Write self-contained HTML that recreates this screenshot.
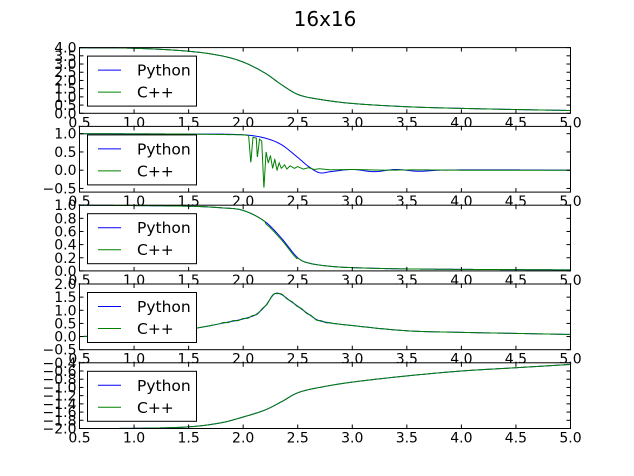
<!DOCTYPE html>
<html><head><meta charset="utf-8"><style>
html,body{margin:0;padding:0;background:#fff;}
svg{display:block;font-family:"DejaVu Sans","Liberation Sans",sans-serif;}
</style></head><body>
<svg id="s" width="634" height="476" viewBox="0 0 634 476" xmlns="http://www.w3.org/2000/svg">
<text x="325" y="26" font-size="20" text-anchor="middle">16x16</text>
</svg>
<script>
const S=document.getElementById('s');const NS='http://www.w3.org/2000/svg';
function el(t,a,txt){const e=document.createElementNS(NS,t);for(const k in a)e.setAttribute(k,a[k]);if(txt!==undefined)e.textContent=txt;S.appendChild(e);return e;}
const L=79.5,R=570.5,H=65.7,tops=[47.6,126.4,205.2,284,362.8];
function lin(pts,x){for(let i=0;i<pts.length-1;i++){if(x<=pts[i+1][0]){const t=(x-pts[i][0])/(pts[i+1][0]-pts[i][0]);return pts[i][1]+t*(pts[i+1][1]-pts[i][1]);}}return pts[pts.length-1][1];}
function cr(pts,x){const n=pts.length;for(let i=0;i<n-1;i++){if(x<=pts[i+1][0]||i==n-2){
 const p0=pts[Math.max(i-1,0)],p1=pts[i],p2=pts[i+1],p3=pts[Math.min(i+2,n-1)];
 const h=p2[0]-p1[0],t=(x-p1[0])/h;
 const m1=(p2[1]-p0[1])/(p2[0]-p0[0])*h,m2=(p3[1]-p1[1])/(p3[0]-p1[0])*h;
 const t2=t*t,t3=t2*t;
 return (2*t3-3*t2+1)*p1[1]+(t3-2*t2+t)*m1+(-2*t3+3*t2)*p2[1]+(t3-t2)*m2;}}}
const E=[[0.5,3.99],[1.0,3.96],[1.5,3.78],[1.8,3.5],[2.0,3.12],[2.2,2.45],[2.35,1.75],[2.5,1.15],[2.7,0.85],[3.0,0.6],[3.5,0.4],[4.0,0.3],[4.5,0.23],[5.0,0.17]];
const M=[[0.5,1],[1.5,0.985],[1.8,0.96],[2.0,0.92],[2.2,0.75],[2.35,0.5],[2.5,0.2],[2.6,0.12],[2.8,0.07],[3.0,0.05],[3.5,0.03],[5,0.015]];
const C=[[0.5,0],[1.0,0.07],[1.5,0.28],[1.8,0.5],[2.1,0.8],[2.2,1.15],[2.3,1.65],[2.45,1.3],[2.6,0.85],[2.7,0.6],[3.0,0.42],[3.5,0.22],[4.0,0.16],[4.5,0.12],[5,0.08]];
const E5=[[0.5,-2],[1.0,-1.995],[1.5,-1.96],[1.8,-1.86],[2.0,-1.72],[2.2,-1.55],[2.35,-1.35],[2.5,-1.13],[2.7,-1.0],[3.0,-0.87],[3.5,-0.72],[4.0,-0.6],[4.5,-0.52],[5,-0.44]];
const P2=[[0.5,1],[1.5,0.99],[2.0,0.97],[2.2,0.88],[2.35,0.7],[2.5,0.35],[2.6,0.1],[2.7,-0.07],[2.8,-0.04],[3.0,0.02],[3.2,-0.04],[3.4,0.02],[3.6,-0.03],[3.8,0.0],[4.2,0.01],[5,0.0]];
const G2=[[0.5,1],[1.5,0.99],[2.0,0.97],[2.05,0.95],[2.07,0.2],[2.09,0.9],[2.12,0.88],[2.13,0.35],[2.15,0.85],[2.17,0.8],[2.19,-0.5],[2.21,0.5],[2.23,0.2],[2.25,0.4],[2.27,0.05],[2.29,0.3],[2.31,0.0],[2.33,0.2],[2.35,0.05],[2.38,0.15],[2.4,0.03],[2.43,0.12],[2.47,0.05],[2.5,0.1],[2.55,0.03],[2.6,0.07],[2.65,0.02],[2.7,0.04],[2.8,0.01],[3.0,0.02],[3.3,0.0],[3.6,0.01],[4,0.0],[5,0.0]];
const panels=[
 {y0:0,y1:4,ticks:[0,0.5,1,1.5,2,2.5,3,3.5,4],f:x=>cr(E,x),g:x=>cr(E,x)},
 {y0:-0.6,y1:1.2,ticks:[-0.5,0,0.5,1.0],f:x=>cr(P2,x),g:x=>lin(G2,x),gl:true},
 {y0:0,y1:1,ticks:[0,0.2,0.4,0.6,0.8,1.0],f:x=>cr(M,x),g:x=>cr(M,x)+(x>2.2&&x<2.5?-0.025:0)},
 {y0:-0.5,y1:2,ticks:[-0.5,0,0.5,1,1.5,2],f:x=>cr(C,x),g:x=>cr(C,x)+(x>1.8&&x<2.8?0.02*Math.sin(x*70):0)},
 {y0:-2,y1:-0.4,ticks:[-2,-1.8,-1.6,-1.4,-1.2,-1,-0.8,-0.6,-0.4],f:x=>cr(E5,x),g:x=>cr(E5,x)}
];
const fmt=v=>v.toFixed(1).replace('-','\u2212');
panels.forEach((p,i)=>{
 const T=tops[i],B=T+H;
 const X=x=>L+(x-0.5)/4.5*(R-L);const Y=y=>B-(y-p.y0)/(p.y1-p.y0)*H;
 el('rect',{x:L,y:T,width:R-L,height:H,fill:'#fff'});
 const mk=(fn,n)=>{let d='';for(let k=0;k<=n;k++){const x=0.5+4.5*k/n;d+=(k?'L':'M')+X(x).toFixed(2)+','+Y(fn(x)).toFixed(2);}return d;};
 el('path',{d:mk(p.f,400),fill:'none',stroke:'#0000ff','stroke-width':1});
 el('path',{d:mk(p.g,p.gl?3000:400),fill:'none',stroke:'#008000','stroke-width':1});
 el('rect',{x:L,y:T,width:R-L,height:H,fill:'none',stroke:'#000','stroke-width':1});
 for(let k=0;k<=9;k++){const xv=0.5+0.5*k,xx=X(xv);
  el('line',{x1:xx,y1:B,x2:xx,y2:B-4,stroke:'#000'});el('line',{x1:xx,y1:T,x2:xx,y2:T+4,stroke:'#000'});
  el('text',{x:xx,y:B+14,'font-size':14,'text-anchor':'middle'},xv.toFixed(1));}
 p.ticks.forEach(t=>{const yy=Y(t);
  el('line',{x1:L,y1:yy,x2:L+4,y2:yy,stroke:'#000'});el('line',{x1:R,y1:yy,x2:R-4,y2:yy,stroke:'#000'});
  el('text',{x:L-3,y:yy+5,'font-size':14,'text-anchor':'end'},fmt(t));});
 const ly=T+8.5;
 el('rect',{x:87.5,y:ly,width:109,height:50,fill:'#fff',stroke:'#000','stroke-width':1});
 el('line',{x1:98,y1:ly+14,x2:121,y2:ly+14,stroke:'#0000ff'});
 el('line',{x1:98,y1:ly+36,x2:121,y2:ly+36,stroke:'#008000'});
 el('text',{x:137,y:ly+19.5,'font-size':15.5},'Python');
 el('text',{x:137,y:ly+41.5,'font-size':15.5},'C++');
});
</script>
</body></html>
